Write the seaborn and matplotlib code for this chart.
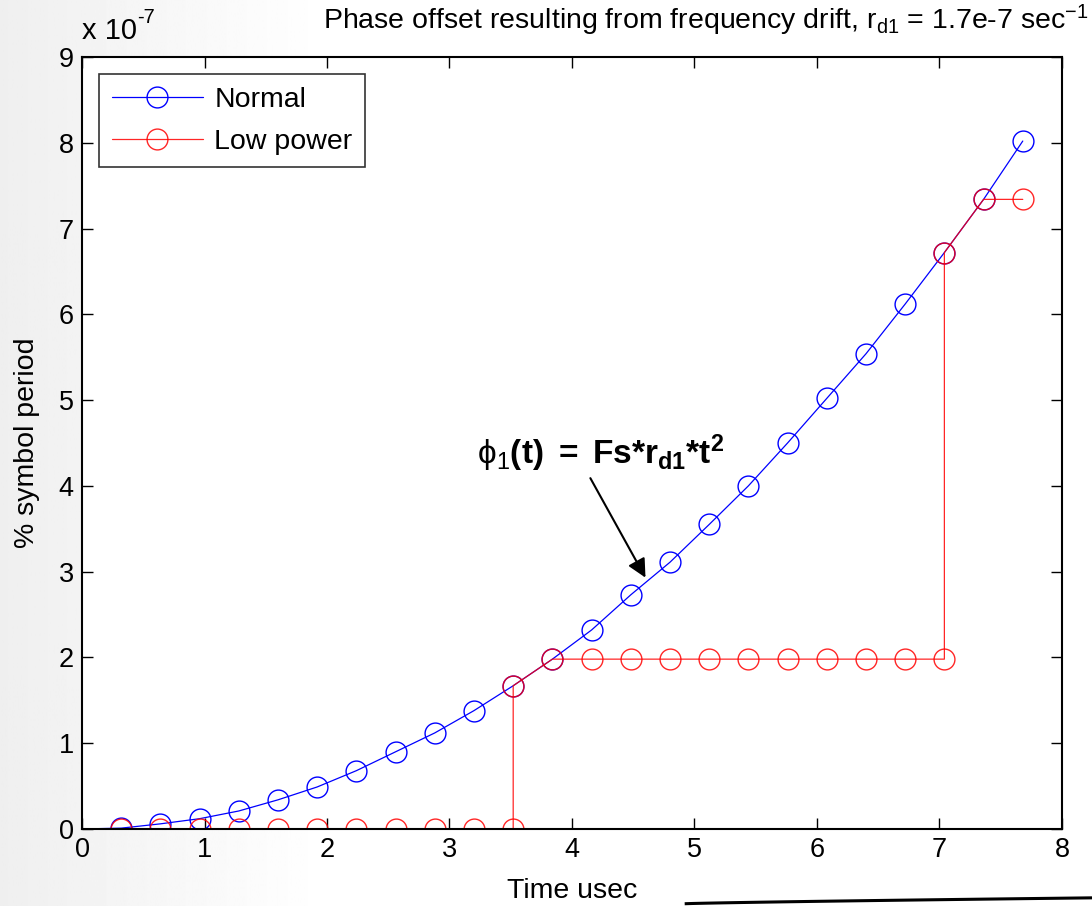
import matplotlib
matplotlib.use("Agg")
import matplotlib.pyplot as plt
import numpy as np
import pandas as pd
import seaborn as sns

# sample times (usec) and phase offset, in units of 1e-7 % symbol period
t_normal = [0.0, 0.32, 0.64, 0.96, 1.28, 1.60, 1.92, 2.24, 2.56, 2.88, 3.20, 3.52,
            3.84, 4.16, 4.48, 4.80, 5.12, 5.44, 5.76, 6.08, 6.40, 6.72, 7.04, 7.36, 7.68]
normal = [0.0, 0.01, 0.06, 0.12, 0.21, 0.34, 0.49, 0.68, 0.90, 1.12, 1.38, 1.67,
          1.98, 2.32, 2.73, 3.11, 3.55, 4.00, 4.50, 5.02, 5.54, 6.12, 6.72, 7.34, 8.02]

t_low = [0.0, 0.32, 0.64, 0.96, 1.28, 1.60, 1.92, 2.24, 2.56, 2.88, 3.20, 3.52, 3.52,
         3.84, 4.16, 4.48, 4.80, 5.12, 5.44, 5.76, 6.08, 6.40, 6.72, 7.04, 7.04, 7.36, 7.68]
low_power = [0.0, 0.0, 0.0, 0.0, 0.0, 0.0, 0.0, 0.0, 0.0, 0.0, 0.0, 0.0, 1.67,
             1.98, 1.98, 1.98, 1.98, 1.98, 1.98, 1.98, 1.98, 1.98, 1.98, 1.98, 6.72, 7.34, 7.34]

sns.set_style("white")
plt.rcParams["font.family"] = ["Liberation Sans", "DejaVu Sans"]
plt.rcParams["mathtext.fontset"] = "custom"
plt.rcParams["mathtext.rm"] = "Liberation Sans"
plt.rcParams["mathtext.it"] = "Liberation Sans:italic"
plt.rcParams["mathtext.bf"] = "Liberation Sans:bold"
for k in ["text.color", "axes.labelcolor", "xtick.color", "ytick.color"]:
    plt.rcParams[k] = "black"

fig = plt.figure(figsize=(10.92, 9.06), dpi=100)

# faint slide background on the left + the swoosh at the bottom
bg = fig.add_axes([0, 0, 1, 1], zorder=-10)
grad = np.tile(np.linspace(0.91, 1.0, 256) ** 0.7, (2, 1))
bg.imshow(grad, cmap="gray", vmin=0, vmax=1, aspect="auto", extent=[0, 0.3, 0, 1])
sx = np.linspace(0.627, 1.0, 50)
bg.plot(sx, 0.0025 + 0.0065 * ((sx - 0.627) / 0.373) ** 0.8, color="black", lw=2.2,
        solid_capstyle="butt")
bg.set_xlim(0, 1)
bg.set_ylim(0, 1)
bg.axis("off")

ax = fig.add_axes([0.0751, 0.085, 0.8974, 0.8521])
ax.set_facecolor("white")

df_n = pd.DataFrame({"t": t_normal, "v": normal})
df_l = pd.DataFrame({"t": t_low, "v": low_power})

sns.lineplot(data=df_n, x="t", y="v", ax=ax, estimator=None, sort=False,
             color="blue", lw=0.9, marker="o", markevery=list(range(1, len(t_normal))),
             markersize=15, markerfacecolor="none", markeredgecolor="blue",
             markeredgewidth=1.0, label="Normal")
sns.lineplot(data=df_l, x="t", y="v", ax=ax, estimator=None, sort=False,
             color="red", lw=0.9, marker="o", markevery=list(range(1, len(t_low))),
             markersize=15, markerfacecolor="none", markeredgecolor="red",
             markeredgewidth=1.0, label="Low power", alpha=0.85)

ax.set_xlim(0, 8)
ax.set_ylim(0, 9)
ax.set_xticks(range(0, 9))
ax.set_yticks(range(0, 10))
ax.tick_params(direction="in", length=8, width=1, labelsize=19.5, top=True, right=True,
               bottom=True, left=True, pad=6)
for s in ax.spines.values():
    s.set_visible(True)
    s.set_color("black")
    s.set_linewidth(1.5)

ax.set_xlabel("Time usec", fontsize=20.5)
ax.set_ylabel("% symbol period", fontsize=20.5)
ax.xaxis.set_label_coords(0.5, -0.064)
ax.yaxis.set_label_coords(-0.043, 0.5)

leg = ax.legend(loc="upper left", fontsize=20.5, frameon=True, fancybox=False,
                edgecolor="black", handlelength=3.2, borderpad=0.45,
                labelspacing=0.55, borderaxespad=0.6, handletextpad=0.4)
leg.get_frame().set_linewidth(1.2)

fig.text(0.075, 0.950, "x 10", fontsize=21, ha="left", va="bottom")
fig.text(0.1255, 0.970, "-7", fontsize=14.5, ha="left", va="bottom")
fig.text(0.997, 0.958,
         r"Phase offset resulting from frequency drift, $\mathrm{r_{d1}}$ = 1.7e-7 sec$^{-1}$",
         fontsize=20.5, ha="right", va="bottom")

ax.text(4.23, 4.38, r"$\mathrm{\phi_1}\mathbf{(t)\ =\ Fs{*}r_{d1}{*}t^2}$",
        fontsize=24, ha="center", va="center")
ax.annotate("", xy=(4.6, 2.93), xytext=(4.15, 4.09),
            arrowprops=dict(arrowstyle="-|>", color="black", lw=1.5,
                            mutation_scale=28, shrinkA=0, shrinkB=0))

fig.savefig("out.png", dpi=100)
